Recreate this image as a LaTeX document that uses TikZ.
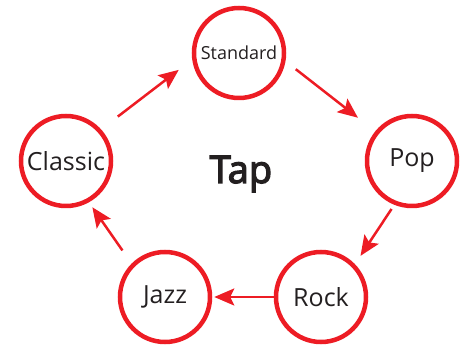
\documentclass[tikz,border=0pt]{standalone}
\usepackage{fontspec}
\setmainfont{Open Sans}
\newfontfamily\tapfont[FakeBold=3.5]{Open Sans}
\usetikzlibrary{arrows.meta}
\definecolor{cred}{HTML}{ED1C24}
\definecolor{ctext}{HTML}{231F20}
\begin{document}
\begin{tikzpicture}[x=1pt,y=1pt,
  genre/.style={circle,draw=cred,line width=4.5pt,minimum size=90pt,inner sep=0pt,text=ctext,font=\fontsize{25}{28}\selectfont},
  arr/.style={draw=cred,line width=2.5pt,-{Stealth[length=20pt,width=17pt,inset=4pt]}}]
\useasboundingbox (0,0) rectangle (469,345);
\node[genre,font=\fontsize{18}{20}\selectfont] (std) at (239,292) {Standard};
\node[genre] (pop) at (412,184) {Pop};
\node[genre] (rock) at (321,48) {Rock};
\node[genre] (jazz) at (165,48) {Jazz};
\node[genre] (cla) at (66,184) {Classic};
\node[text=ctext,font=\tapfont\fontsize{38}{44}\selectfont] (tap) at (241,171) {Tap};
\draw[arr,shorten <=13pt,shorten >=22pt] (std.-10) -- (pop.141);
\draw[arr,shorten <=5pt,shorten >=10pt] (pop.-112) -- (rock.44);
\draw[arr,shorten <=0pt,shorten >=2pt] (rock.180) -- (jazz.0);
\draw[arr,shorten <=16pt,shorten >=6pt] (jazz.135) -- (cla.-61);
\draw[arr,shorten <=21pt,shorten >=17pt] (cla.42) -- (std.188);
\end{tikzpicture}
\end{document}
